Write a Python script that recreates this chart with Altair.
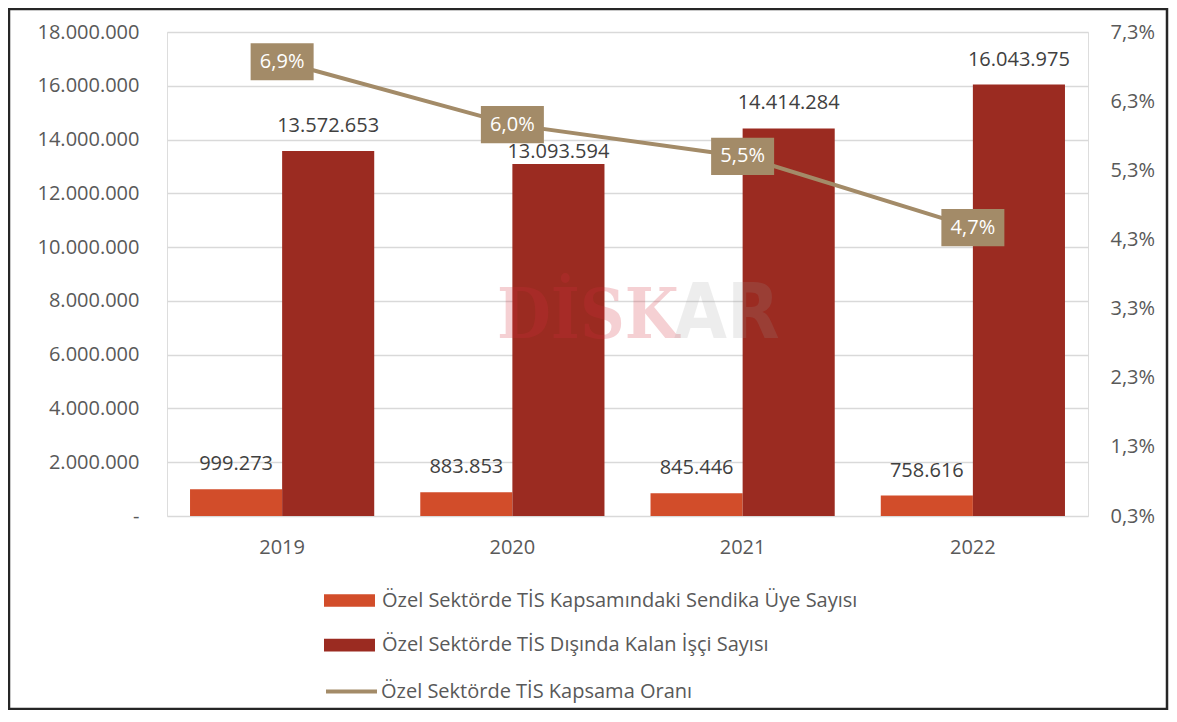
import altair as alt
import pandas as pd

# ---- data ----
years = ["2019", "2020", "2021", "2022"]
members = [999273, 883853, 845446, 758616]          # TİS kapsamındaki sendika üyesi
outside = [13572653, 13093594, 14414284, 16043975]  # TİS dışında kalan işçi
rate = [6.87, 5.96, 5.5, 4.47]                      # kapsama oranı (plotted position, %)
rate_labels = ["6,9%", "6,0%", "5,5%", "4,7%"]      # printed labels
series = [
    "Özel Sektörde TİS Kapsamındaki Sendika Üye Sayısı",
    "Özel Sektörde TİS Dışında Kalan İşçi Sayısı",
]
line_name = "Özel Sektörde TİS Kapsama Oranı"
left_ticks = list(range(0, 18000001, 2000000))
right_ticks = [0.3, 1.3, 2.3, 3.3, 4.3, 5.3, 6.3, 7.3]

bar_colors = ["#D24D2A", "#9B2B21"]
line_color = "#A38B68"
FONT = "Open Sans"

bar_df = pd.DataFrame(
    {
        "year": years * 2,
        "series": [series[0]] * 4 + [series[1]] * 4,
        "value": members + outside,
    }
)
line_df = pd.DataFrame(
    {"year": years, "rate": rate, "label": rate_labels, "name": [line_name] * 4}
)

W, H = 921, 484

x_enc = alt.X(
    "year:N",
    title=None,
    scale=alt.Scale(paddingInner=0.2, paddingOuter=0.1),
    axis=alt.Axis(
        labelAngle=0,
        domain=False,
        ticks=False,
        labelPadding=21,
        labelFont=FONT,
        labelFontSize=20,
        labelColor="#595959",
        grid=False,
    ),
)
xoff = alt.XOffset(
    "series:N", sort=series, scale=alt.Scale(paddingInner=0, paddingOuter=0)
)
y_left = alt.Y(
    "value:Q",
    title=None,
    scale=alt.Scale(domain=[0, 18000000], nice=False, zero=True),
    axis=alt.Axis(
        values=left_ticks,
        format=",d",
        labelExpr="datum.value == 0 ? '-' : datum.label",
        domain=False,
        ticks=False,
        labelPadding=28,
        labelFont=FONT,
        labelFontSize=20,
        labelColor="#595959",
        grid=True,
        gridColor="#D9D9D9",
        gridWidth=1.3,
    ),
)

legend_common = dict(
    title=None,
    orient="none",
    legendX=172,
    direction="vertical",
    symbolSize=416,
    labelFont=FONT,
    labelFontSize=20,
    labelColor="#595959",
    labelLimit=900,
    padding=0,
)

bars = alt.Chart(bar_df).mark_bar(stroke=None).encode(
    x=x_enc,
    xOffset=xoff,
    y=y_left,
    color=alt.Color(
        "series:N",
        sort=series,
        scale=alt.Scale(domain=series, range=bar_colors),
        legend=alt.Legend(
            legendY=558,
            symbolType="M-2.5,-0.62L2.5,-0.62L2.5,0.62L-2.5,0.62Z",
            symbolStrokeWidth=0,
            symbolOpacity=1,
            rowPadding=23.6,
            labelOffset=22,
            **legend_common,
        ),
    ),
)

# the 2020 "outside" label sits closer to its bar in the reference (avoids the rate box)
near_2020 = (alt.datum.year == "2020") & (alt.datum.series == series[1])

bar_text = alt.Chart(bar_df).transform_filter(~near_2020).mark_text(
    dy=-25, baseline="middle", font=FONT, fontSize=20, color="#404040"
).encode(
    x=alt.X("year:N"),
    xOffset=xoff,
    y=alt.Y("value:Q"),
    text=alt.Text("value:Q", format=",d"),
)
bar_text_2020 = alt.Chart(bar_df).transform_filter(near_2020).mark_text(
    dy=-12, baseline="middle", font=FONT, fontSize=20, color="#404040"
).encode(
    x=alt.X("year:N"),
    xOffset=xoff,
    y=alt.Y("value:Q"),
    text=alt.Text("value:Q", format=",d"),
)

y_right = alt.Y(
    "rate:Q",
    title=None,
    scale=alt.Scale(domain=[0.3, 7.3], nice=False, zero=False),
    axis=alt.Axis(
        orient="right",
        values=right_ticks,
        format=".1f",
        labelExpr="datum.label + '%'",
        domain=False,
        ticks=False,
        grid=False,
        labelPadding=22,
        labelFont=FONT,
        labelFontSize=20,
        labelColor="#595959",
    ),
)

line = alt.Chart(line_df).mark_line(strokeWidth=4).encode(
    x=alt.X("year:N"),
    y=y_right,
    stroke=alt.Stroke(
        "name:N",
        scale=alt.Scale(domain=[line_name], range=[line_color]),
        legend=alt.Legend(
            legendY=647,
            symbolType="M-2.5,0L2.5,0",
            symbolStrokeWidth=4,
            labelOffset=17,
            **legend_common,
        ),
    ),
)

boxes = alt.Chart(line_df).mark_point(
    shape="M-1,-0.59L1,-0.59L1,0.59L-1,0.59Z",
    size=3969,
    filled=True,
    fill=line_color,
    opacity=1,
    strokeWidth=0,
).encode(x=alt.X("year:N"), y=alt.Y("rate:Q"))

box_text = alt.Chart(line_df).mark_text(
    font=FONT, fontSize=20, color="white", baseline="middle", align="center"
).encode(x=alt.X("year:N"), y=alt.Y("rate:Q"), text="label:N")

left_group = alt.layer(bars, bar_text, bar_text_2020)
right_group = alt.layer(line, boxes, box_text)

wm_df = pd.DataFrame({"a": ["DİSK"], "b": ["AR"]})
wm1 = alt.Chart(wm_df).mark_text(
    font="DejaVu Serif Condensed",
    fontWeight="bold",
    fontSize=69,
    color="#D42F3C",
    opacity=0.22,
    align="left",
    baseline="alphabetic",
).encode(x=alt.value(330), y=alt.value(306), text="a:N")
wm2 = alt.Chart(wm_df).mark_text(
    font="DejaVu Sans Condensed",
    fontWeight="bold",
    fontSize=76,
    color="#9A9A9A",
    opacity=0.17,
    align="left",
    baseline="alphabetic",
).encode(x=alt.value(507), y=alt.value(306), text="b:N")

frame = alt.Chart(pd.DataFrame({"a": [0]})).mark_rect(
    fillOpacity=0, stroke="#262626", strokeWidth=2.5
).encode(
    x=alt.value(-158), x2=alt.value(1000), y=alt.value(-23), y2=alt.value(677)
)

chart = (
    alt.layer(left_group, right_group, wm1, wm2, frame)
    .resolve_scale(y="independent", color="independent", stroke="independent")
    .properties(
        width=W,
        height=H,
        padding={"left": 159, "top": 24, "right": 81, "bottom": 194},
        autosize=alt.AutoSizeParams(type="none"),
        background="white",
    )
    .configure_view(stroke=None)
    .configure(
        locale=alt.Locale(
            number=alt.NumberLocale(
                decimal=",", thousands=".", grouping=[3], currency=["", "₺"]
            )
        )
    )
)

chart.save("out.html", embed_options={"renderer": "svg", "actions": False})
